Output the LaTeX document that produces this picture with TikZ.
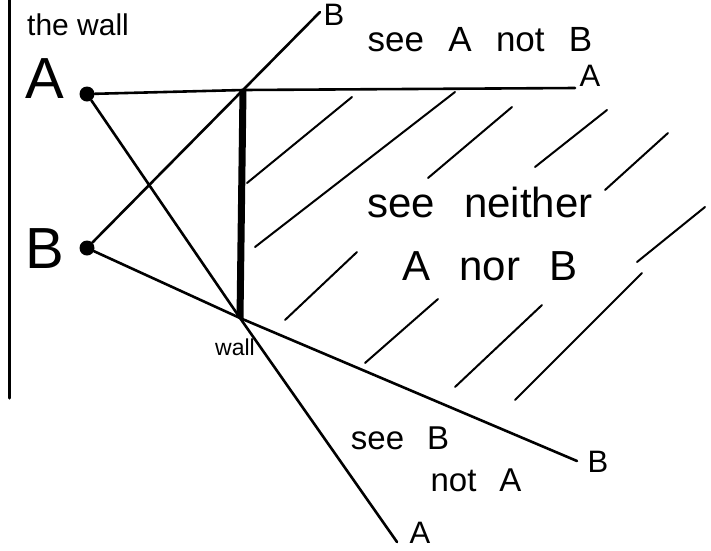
\documentclass[tikz,border=0pt]{standalone}
\usepackage{fontspec}
\setmainfont{Liberation Sans}
\newfontfamily\handfont[WordSpace={2.5}]{Liberation Sans}
\usetikzlibrary{positioning}
\definecolor{wlink}{HTML}{000000}

\begin{document}
\begin{tikzpicture}[x=1pt,y=-1pt,line cap=round,
  ray/.style={wlink,line width=2.6pt},
  hatch/.style={wlink,line width=2pt},
  spot/.style={circle,fill=wlink,inner sep=0pt,minimum size=15pt},
  hand/.style={font=\handfont\fontsize{#1}{#1}\selectfont,inner sep=0pt},
  endlab/.style={font=\fontsize{31}{33}\selectfont,inner sep=0pt}]
  \useasboundingbox (0,0) rectangle (711,550);
  % mur de gauche
  \draw[wlink,line width=3pt] (9,0) -- (9,398);
  \node[anchor=base west,font=\fontsize{30}{32}\selectfont,inner sep=0pt] (title) at (27,35) {the wall};
  % points A et B
  \node[spot] (A) at (87,94) {};
  \node[spot] (B) at (87,248) {};
  \node[font=\fontsize{58}{60}\selectfont,inner sep=0pt] (labA) at (45,79) {A};
  \node[font=\fontsize{58}{60}\selectfont,inner sep=0pt] (labB) at (45,249) {B};
  % bouts du mur et des rayons
  \coordinate (top) at (243,90);
  \coordinate (bot) at (240,318);
  \coordinate (endA1) at (575,88);
  \coordinate (endB1) at (320,12);
  \coordinate (endA2) at (397,542);
  \coordinate (endB2) at (577,461);
  % rayons
  \draw[ray] (A) -- (top) -- (endA1);
  \draw[ray] (B) -- (top) -- (endB1);
  \draw[ray] (A) -- (bot) -- (endA2);
  \draw[ray] (B) -- (bot) -- (endB2);
  \draw[wlink,line width=7pt,line cap=butt] (top) -- (bot);
  \node[font=\fontsize{23}{25}\selectfont,inner sep=0pt] (wall) at (235,347) {wall};
  \node[endlab] (tipB1) at (334,15) {B};
  \node[endlab] (tipA1) at (590,76) {A};
  \node[endlab] (tipA2) at (420,533) {A};
  \node[endlab] (tipB2) at (598,462) {B};
  % hachures
  \foreach \xa/\ya/\xb/\yb in {247/183/352/97, 255/247/455/92, 428/178/512/107,
      535/167/607/110, 605/190/668/133, 637/262/705/207, 285/320/357/252,
      365/363/438/299, 455/387/542/305, 515/400/642/273}
    \draw[hatch] (\xa,\ya) -- (\xb,\yb);
  % zones
  \node[hand=35] (seeA) at (480,40) {see A not B};
  \node[hand=42] (neither) at (480,202) {see neither};
  \node[hand=42] (nor) at (490,266) {A nor B};
  \node[hand=33] (seeB) at (400,438) {see B};
  \node[hand=33] (notA) at (476,480) {not A};
\end{tikzpicture}
\end{document}
